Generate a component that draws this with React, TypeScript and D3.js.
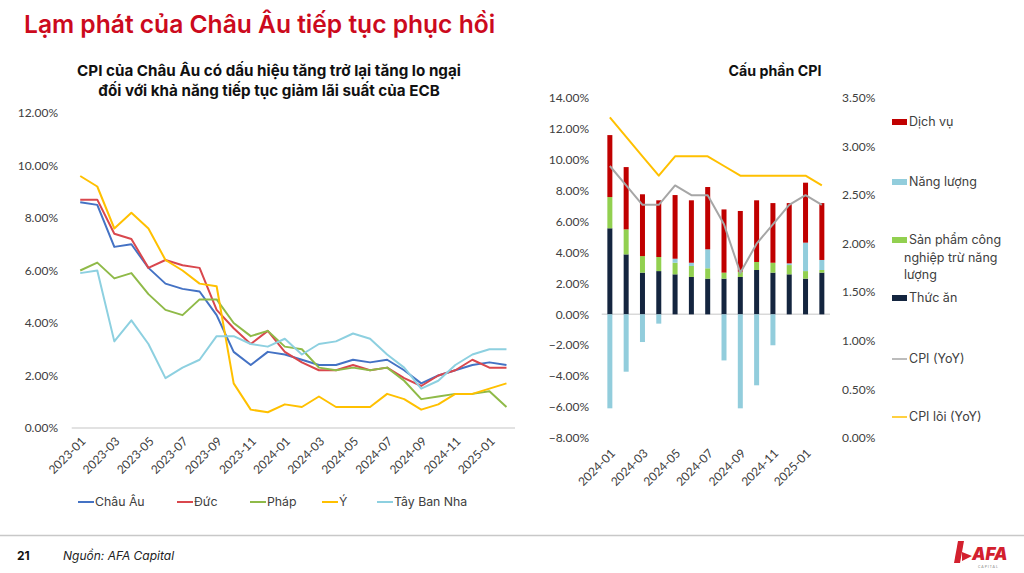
import React from "react";
import * as d3 from "d3";

// ---------- Left chart data ----------
const monthsA = [
  "2023-01","2023-02","2023-03","2023-04","2023-05","2023-06","2023-07","2023-08","2023-09","2023-10","2023-11","2023-12",
  "2024-01","2024-02","2024-03","2024-04","2024-05","2024-06","2024-07","2024-08","2024-09","2024-10","2024-11","2024-12",
  "2025-01","2025-02",
];
const chauAu = [8.6, 8.5, 6.9, 7.0, 6.1, 5.5, 5.3, 5.2, 4.3, 2.9, 2.4, 2.9, 2.8, 2.6, 2.4, 2.4, 2.6, 2.5, 2.6, 2.2, 1.7, 2.0, 2.2, 2.4, 2.5, 2.4];
const duc = [8.7, 8.7, 7.4, 7.2, 6.1, 6.4, 6.2, 6.1, 4.5, 3.8, 3.2, 3.7, 2.9, 2.5, 2.2, 2.2, 2.4, 2.2, 2.3, 1.9, 1.6, 2.0, 2.2, 2.6, 2.3, 2.3];
const phap = [6.0, 6.3, 5.7, 5.9, 5.1, 4.5, 4.3, 4.9, 4.9, 4.0, 3.5, 3.7, 3.1, 3.0, 2.3, 2.2, 2.3, 2.2, 2.3, 1.8, 1.1, 1.2, 1.3, 1.3, 1.4, 0.8];
const y_ = [9.6, 9.2, 7.6, 8.2, 7.6, 6.4, 6.0, 5.5, 5.4, 1.7, 0.7, 0.6, 0.9, 0.8, 1.2, 0.8, 0.8, 0.8, 1.3, 1.1, 0.7, 0.9, 1.3, 1.3, 1.5, 1.7];
const tayBanNha = [5.9, 6.0, 3.3, 4.1, 3.2, 1.9, 2.3, 2.6, 3.5, 3.5, 3.2, 3.1, 3.4, 2.8, 3.2, 3.3, 3.6, 3.4, 2.8, 2.3, 1.5, 1.8, 2.4, 2.8, 3.0, 3.0];
const leftSeriesNames = ["Châu Âu", "Đức", "Pháp", "Ý", "Tây Ban Nha"];
const leftTicks = [0, 2, 4, 6, 8, 10, 12];
const leftXLabels = ["2023-01","2023-03","2023-05","2023-07","2023-09","2023-11","2024-01","2024-03","2024-05","2024-07","2024-09","2024-11","2025-01"];

// ---------- Right chart data ----------
const monthsB = [
  "2024-01","2024-02","2024-03","2024-04","2024-05","2024-06","2024-07","2024-08","2024-09","2024-10","2024-11","2024-12",
  "2025-01","2025-02",
];
const thucAn = [5.57, 3.88, 2.70, 2.80, 2.59, 2.42, 2.31, 2.31, 2.42, 2.87, 2.70, 2.59, 2.31, 2.70];
const sanPham = [2.02, 1.62, 1.07, 0.91, 0.75, 0.71, 0.67, 0.39, 0.34, 0.52, 0.64, 0.60, 0.49, 0.17];
const nangLuong = [-6.08, -3.71, -1.79, -0.6, 0.26, 0.21, 1.23, -2.98, -6.08, -4.59, -2.0, 0.11, 1.84, 0.65];
const dichVu = [4.01, 4.03, 4.0, 3.67, 4.12, 4.04, 4.03, 4.09, 3.93, 3.99, 3.86, 3.90, 3.88, 3.68];
const cpiYoY = [2.8, 2.6, 2.4, 2.4, 2.6, 2.5, 2.5, 2.2, 1.7, 2.0, 2.2, 2.4, 2.5, 2.4];
const cpiLoi = [3.3, 3.1, 2.9, 2.7, 2.9, 2.9, 2.9, 2.8, 2.7, 2.7, 2.7, 2.7, 2.7, 2.6];
const rightLeftTicks = [-8, -6, -4, -2, 0, 2, 4, 6, 8, 10, 12, 14];
const rightRightTicks = [0, 0.5, 1, 1.5, 2, 2.5, 3, 3.5];
const rightXLabels = ["2024-01","2024-03","2024-05","2024-07","2024-09","2024-11","2025-01"];

const FONT = "Lato, 'Noto Sans', sans-serif";
const FONT_W = "Inter, 'Noto Sans', sans-serif";
const TXT = "#404040";

const leftColors = ["#4472c4", "#d9474d", "#8fba48", "#ffc000", "#8dd0e0"];
const C_DV = "#c00000";
const C_NL = "#92cddc";
const C_SP = "#92d050";
const C_TA = "#14253f";
const C_CPI = "#a6a6a6";
const C_LOI = "#ffc000";

export default function App() {
  // Left chart scales
  const xA = d3.scaleBand<string>().domain(monthsA).range([71.7, 515]);
  const cxA = (m: string) => (xA(m) as number) + xA.bandwidth() / 2;
  const yA = d3.scaleLinear().domain([0, 12]).range([428, 113]);
  const leftSeries = [chauAu, duc, phap, y_, tayBanNha];
  const lineA = d3
    .line<number>()
    .x((_, i) => cxA(monthsA[i]))
    .y((d) => yA(d));

  // Right chart scales
  const xB = d3.scaleBand<string>().domain(monthsB).range([601.7, 830]);
  const cxB = (m: string) => (xB(m) as number) + xB.bandwidth() / 2;
  const yB = d3.scaleLinear().domain([-8, 14]).range([438, 98]);
  const yB2 = d3.scaleLinear().domain([0, 3.5]).range([438, 98]);
  const barW = 5;
  const lineB = (arr: number[]) =>
    d3
      .line<number>()
      .x((_, i) => cxB(monthsB[i]))
      .y((d) => yB2(d))(arr) as string;

  const pct = d3.format(".2f");

  const bars: { x: number; y0: number; y1: number; c: string; k: string }[] = [];
  monthsB.forEach((m, i) => {
    let pos = 0;
    const push = (v: number, c: string, k: string) => {
      if (v >= 0) {
        bars.push({ x: cxB(m), y0: pos, y1: pos + v, c, k: k + i });
        pos += v;
      } else {
        bars.push({ x: cxB(m), y0: v, y1: 0, c, k: k + i });
      }
    };
    push(thucAn[i], C_TA, "ta");
    push(sanPham[i], C_SP, "sp");
    if (nangLuong[i] >= 0) push(nangLuong[i], C_NL, "nl");
    push(dichVu[i], C_DV, "dv");
    if (nangLuong[i] < 0) push(nangLuong[i], C_NL, "nl");
  });

  const legendBottomX = [78, 177, 250, 322, 377];

  const rightLegend = [
    { type: "rect", c: C_DV, lines: ["Dịch vụ"], y: 122 },
    { type: "rect", c: C_NL, lines: ["Năng lượng"], y: 182 },
    { type: "rect", c: C_SP, lines: ["Sản phẩm công", "nghiệp trừ năng", "lượng"], y: 240 },
    { type: "rect", c: C_TA, lines: ["Thức ăn"], y: 298 },
    { type: "line", c: C_CPI, lines: ["CPI (YoY)"], y: 359 },
    { type: "line", c: C_LOI, lines: ["CPI lõi (YoY)"], y: 417 },
  ];

  return (
    <svg
      width={1024}
      height={573}
      style={{ position: "absolute", left: 0, top: 0, background: "#fff" }}
      fontFamily={FONT}
    >
      <rect x={0} y={0} width={1024} height={573} fill="#fff" />
      {/* Title */}
      <text x={24} y={33} fill="#cc0a1d" fontSize={24.6} fontWeight={600} fontFamily={FONT_W}>
        Lạm phát của Châu Âu tiếp tục phục hồi
      </text>
      <text x={269} y={76} textAnchor="middle" fill="#111" fontSize={15.2} fontWeight={700} fontFamily={FONT_W}>
        CPI của Châu Âu có dấu hiệu tăng trở lại tăng lo ngại
      </text>
      <text x={269} y={96} textAnchor="middle" fill="#111" fontSize={15.2} fontWeight={700} fontFamily={FONT_W}>
        đối với khả năng tiếp tục giảm lãi suất của ECB
      </text>
      <text x={775} y={76} textAnchor="middle" fill="#111" fontSize={14.2} fontWeight={700} fontFamily={FONT_W}>
        Cấu phần CPI
      </text>

      {/* Left chart */}
      {leftTicks.map((t) => (
        <text key={t} x={58} y={yA(t)} dy="0.35em" textAnchor="end" fill={TXT} fontSize={12}>
          {pct(t)}%
        </text>
      ))}
      <line x1={71.7} x2={515} y1={yA(0)} y2={yA(0)} stroke="#d9d9d9" strokeWidth={1.5} />
      {leftSeries.map((s, k) => (
        <path key={k} d={lineA(s) as string} fill="none" stroke={leftColors[k]} strokeWidth={2} strokeLinejoin="round" />
      ))}
      {leftXLabels.map((m) => (
        <text
          key={m}
          transform={`translate(${cxA(m) + 4},${440}) rotate(-45)`}
          textAnchor="end"
          dominantBaseline="middle"
          fill={TXT}
          fontSize={12}
        >
          {m}
        </text>
      ))}
      {leftSeriesNames.map((n, k) => (
        <g key={n}>
          <line x1={legendBottomX[k]} x2={legendBottomX[k] + 16} y1={502} y2={502} stroke={leftColors[k]} strokeWidth={2} />
          <text x={legendBottomX[k] + 17} y={502} dy="0.35em" fill={TXT} fontSize={12.3} fontFamily={FONT_W}>
            {n}
          </text>
        </g>
      ))}

      {/* Right chart */}
      {rightLeftTicks.map((t) => (
        <text key={t} x={589} y={yB(t)} dy="0.35em" textAnchor="end" fill={TXT} fontSize={12}>
          {pct(t)}%
        </text>
      ))}
      {rightRightTicks.map((t) => (
        <text key={t} x={842} y={yB2(t)} dy="0.35em" textAnchor="start" fill={TXT} fontSize={12}>
          {pct(t)}%
        </text>
      ))}
      <line x1={601.7} x2={830} y1={yB(0)} y2={yB(0)} stroke="#d9d9d9" strokeWidth={1.5} />
      {bars.map((b) => (
        <rect key={b.k} x={b.x - barW / 2} width={barW} y={yB(b.y1)} height={yB(b.y0) - yB(b.y1)} fill={b.c} />
      ))}
      <path d={lineB(cpiLoi)} fill="none" stroke={C_LOI} strokeWidth={2} strokeLinejoin="round" />
      <path d={lineB(cpiYoY)} fill="none" stroke={C_CPI} strokeWidth={2} strokeLinejoin="round" />
      {rightXLabels.map((m) => (
        <text
          key={m}
          transform={`translate(${cxB(m) + 4},${452}) rotate(-45)`}
          textAnchor="end"
          dominantBaseline="middle"
          fill={TXT}
          fontSize={12}
        >
          {m}
        </text>
      ))}
      {rightLegend.map((l) => (
        <g key={l.lines[0]}>
          {l.type === "rect" ? (
            <rect x={892} y={l.y - 3} width={15} height={6} fill={l.c} />
          ) : (
            <line x1={892} x2={907} y1={l.y} y2={l.y} stroke={l.c} strokeWidth={1.5} />
          )}
          {l.lines.map((t, j) => (
            <text key={t} x={j === 0 ? 909 : 904} y={l.y + j * 17.5} dy="0.35em" fill={TXT} fontSize={12.5} fontFamily={FONT_W}>
              {t}
            </text>
          ))}
        </g>
      ))}

      {/* Footer */}
      <line x1={0} x2={1024} y1={535.5} y2={535.5} stroke="#c8c8c8" strokeWidth={1.5} />
      <text x={17} y={560} fill="#111" fontSize={12} fontWeight={700} fontFamily={FONT_W}>
        21
      </text>
      <text x={63} y={560} fill="#222" fontSize={12} fontStyle="italic" fontFamily={FONT_W}>
        Nguồn: AFA Capital
      </text>
      <g>
        <path d="M958,541 L964,541 L960,563 L954,563 Z" fill="#d3202e" />
        <path d="M962,552 L972,556 L962,561 Z" fill="#d3202e" />
        <text x={972} y={560} fill="#d3202e" fontSize={17} fontWeight={900} fontStyle="italic" fontFamily={FONT_W}>
          AFA
        </text>
        <text x={978} y={568} fill="#888" fontSize={3.5} letterSpacing={1}>
          CAPITAL
        </text>
      </g>
    </svg>
  );
}
